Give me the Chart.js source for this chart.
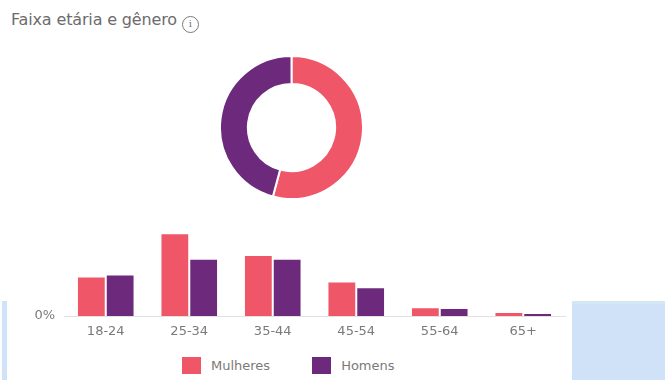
<!DOCTYPE html>
<html lang="pt-BR">
<head>
<meta charset="utf-8">
<script src="https://cdn.jsdelivr.net/npm/chart.js@4/dist/chart.umd.min.js"></script>
<style>
  html, body { margin: 0; padding: 0; background: #ffffff; }
  body { width: 665px; height: 380px; position: relative; overflow: hidden; font-family: "DejaVu Sans", sans-serif; }
  .title { position: absolute; left: 11px; top: 10px; font-size: 16px; color: #6c6c6c; white-space: nowrap; letter-spacing: -0.15px; }
  .info { display: inline-block; box-sizing: border-box; width: 17px; height: 17px; border: 1.4px solid #7a7a7a; border-radius: 50%; font-size: 10px; line-height: 14px; text-align: center; color: #7a7a7a; vertical-align: -2px; margin-left: 5px; font-family: "DejaVu Serif", serif; letter-spacing: 0; }
  #donutWrap { position: absolute; left: 219px; top: 55px; width: 145px; height: 145px; }
  #barWrap { position: absolute; left: 0; top: 200px; width: 600px; height: 150px; }
  #legend { position: absolute; left: 182px; top: 357px; display: flex; align-items: center; font-size: 13px; color: #7a7a7a; white-space: nowrap; }
  #legend .item { display: flex; align-items: center; margin-right: 42px; }
  #legend .box { width: 19px; height: 17px; margin-right: 10px; }
  .edge { position: absolute; background: #d0e2f8; }
  .edge.left { left: 2px; top: 301px; width: 5px; height: 79px; }
  .edge.right { left: 572px; top: 301px; width: 93px; height: 79px; border-top: 3px solid #d3e8f2; box-sizing: border-box; }
</style>
</head>
<body>
<div class="title">Faixa etária e gênero<span class="info">i</span></div>
<div class="edge left"></div>
<div class="edge right"></div>
<div id="donutWrap"><canvas id="donut"></canvas></div>
<div id="barWrap"><canvas id="bars"></canvas></div>
<div id="legend"></div>
<script>
// Age groups and share of the audience (%) per gender
const ageGroups = ['18-24', '25-34', '35-44', '45-54', '55-64', '65+'];
const mulheres = [9.3, 19.8, 14.5, 8.1, 1.9, 0.7];
const homens   = [9.8, 13.6, 13.6, 6.7, 1.7, 0.5];
const genderLabels = ['Mulheres', 'Homens'];

const pink = '#ef5668';
const purple = '#6d2a7c';
const textGray = '#7a7a7a';
const tickFont = { family: '"DejaVu Sans", sans-serif', size: 13 };

const sum = arr => arr.reduce((a, b) => a + b, 0);

// Gender split ring: totals of each series
new Chart(document.getElementById('donut'), {
  type: 'doughnut',
  data: {
    labels: genderLabels,
    datasets: [{
      data: [sum(mulheres), sum(homens)],
      backgroundColor: [pink, purple],
      borderColor: '#ffffff',
      borderWidth: 2
    }]
  },
  options: {
    responsive: true,
    maintainAspectRatio: false,
    animation: false,
    cutout: '61%',
    plugins: { legend: { display: false }, tooltip: { enabled: false } }
  }
});

// Age distribution per gender
const barChart = new Chart(document.getElementById('bars'), {
  type: 'bar',
  data: {
    labels: ageGroups,
    datasets: [
      { label: genderLabels[0], data: mulheres, backgroundColor: pink },
      { label: genderLabels[1], data: homens, backgroundColor: purple }
    ]
  },
  options: {
    responsive: true,
    maintainAspectRatio: false,
    animation: false,
    categoryPercentage: 0.69,
    barPercentage: 0.93,
    layout: { padding: { top: 15, right: 35, left: 0, bottom: 0 } },
    scales: {
      x: {
        afterFit: s => { s.height = 34; },
        grid: { display: false, drawTicks: false },
        border: { display: true, color: '#e2e2e2', width: 1 },
        ticks: { color: textGray, font: tickFont, padding: 8 }
      },
      y: {
        min: 0,
        max: 24,
        afterFit: s => { s.width = 64; },
        grid: { display: false, drawTicks: false },
        border: { display: false },
        ticks: {
          stepSize: 24,
          padding: 9,
          color: textGray,
          font: tickFont,
          callback: v => (v === 0 ? '0%' : '')
        }
      }
    },
    plugins: {
      tooltip: { enabled: false },
      legend: { display: false }
    }
  }
});

// Legend built from the chart's own legend items
const legendEl = document.getElementById('legend');
Chart.defaults.plugins.legend.labels.generateLabels(barChart).forEach(item => {
  const row = document.createElement('div');
  row.className = 'item';
  const box = document.createElement('span');
  box.className = 'box';
  box.style.background = item.fillStyle;
  const txt = document.createElement('span');
  txt.textContent = item.text;
  row.appendChild(box);
  row.appendChild(txt);
  legendEl.appendChild(row);
});
</script>
</body>
</html>
